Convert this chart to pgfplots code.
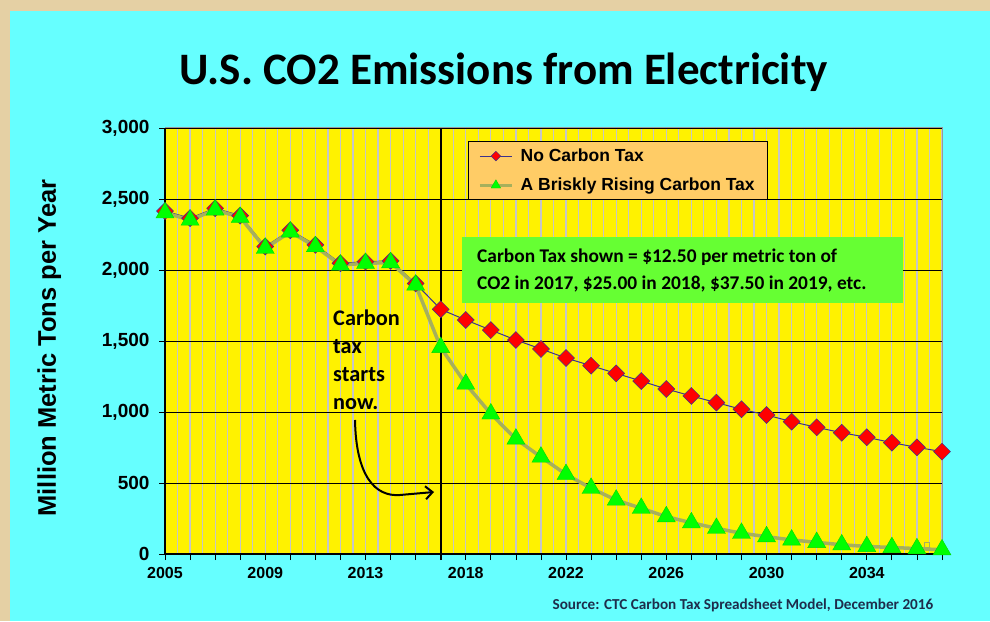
\documentclass[border=0pt]{standalone}
\usepackage{pgfplots}
\pgfplotsset{compat=1.18}
\usepackage{fontspec}
\setmainfont{Liberation Sans}
\newfontfamily\calibri{Carlito}
\usetikzlibrary{arrows.meta}
\definecolor{bgbeige}{RGB}{229,208,164}
\definecolor{panelcyan}{RGB}{102,255,255}
\definecolor{legorange}{RGB}{255,204,102}
\definecolor{boxgreen}{RGB}{102,255,51}
\definecolor{olive}{RGB}{166,176,92}
\definecolor{navyline}{RGB}{60,50,140}
\definecolor{srcnavy}{RGB}{30,45,75}
\pgfplotstableread{
x nc
0 2415
1 2365
2 2435
3 2383
4 2165
5 2280
6 2177
7 2047
8 2059
9 2064
10 1905
11 1723
12 1648
13 1577
14 1507
15 1444
16 1380
17 1326
18 1272
19 1218
20 1162
21 1113
22 1066
23 1019
24 979
25 932
26 892
27 854
28 822
29 784
30 751
31 721
}\nocarbon
\pgfplotstableread{
x ct
0 2403
1 2352
2 2423
3 2371
4 2153
5 2268
6 2165
7 2035
8 2047
9 2052
10 1894
11 1455
12 1197
13 987
14 810
15 683
16 561
17 463
18 380
19 322
20 263
21 220
22 181
23 146
24 122
25 99
26 82
27 65
28 53
29 46
30 38
31 30
}\carbontax
\begin{document}
\begin{tikzpicture}[x=1pt,y=1pt]
\fill[bgbeige] (0,0) rectangle (990,621);
\fill[panelcyan] (10,0) rectangle (990,610);
\begin{axis}[
  at={(165pt,67pt)}, anchor=south west,
  scale only axis, width=777pt, height=426pt,
  xmin=0, xmax=31, ymin=0, ymax=3000,
  clip=false,
  axis background/.style={fill=yellow},
  axis line style={draw=gray!80, line width=1pt},
  xtick={0,...,31},
  xticklabels={2005,,,,2009,,,,2013,,,,2018,,,,2022,,,,2026,,,,2030,,,,2034,,,},
  minor x tick num=1,
  ytick={0,500,...,3000},
  tick align=outside,
  major tick length=6pt,
  minor tick length=0pt,
  tick style={black, line width=0.8pt},
  xtick pos=bottom, ytick pos=left,
  xmajorgrids, xminorgrids, ymajorgrids,
  major x grid style={draw=gray!45, line width=1.2pt},
  minor x grid style={draw=gray!45, line width=1.2pt},
  major y grid style={draw=black, line width=0.9pt},
  scaled y ticks=false,
  /pgf/number format/.cd, 1000 sep={,}, assume math mode=true,
  /pgfplots/.cd,
  xticklabel style={font=\bfseries\fontsize{16}{18}\selectfont, yshift=-4pt},
  yticklabel style={font=\bfseries\fontsize{19}{21}\selectfont, xshift=-6pt},
  ylabel={Million Metric Tons per Year},
  ylabel style={at={(axis description cs:-0.149,0.4836)}, anchor=center, font=\bfseries\fontsize{25.5}{28}\selectfont},
  title={U.S. CO2 Emissions from Electricity},
  title style={at={(axis description cs:0.4357,1.117)}, anchor=center, font=\calibri\bfseries\fontsize{45}{48}\selectfont},
  legend style={at={(rel axis cs:0.3895,0.9695)}, anchor=north west,
    fill=legorange, draw=black, line width=1pt,
    font=\bfseries\fontsize{17.5}{20}\selectfont,
    inner xsep=10pt, inner ysep=5.5pt, row sep=11pt, column sep=4pt,
    nodes={inner xsep=3pt}},
  legend cell align=left,
]
\addplot[navyline, line width=1pt, mark=square*, mark size=6pt,
  mark options={rotate=45, fill=red, draw=navyline, line width=0.5pt},
  legend image code/.code={\draw[mark size=3.4pt, mark repeat=2, mark phase=2] plot coordinates {(0pt,0pt) (16pt,0pt) (32pt,0pt)};}]
  table[x=x,y=nc] {\nocarbon};
\addlegendentry{No Carbon Tax}
\addplot[olive, line width=3.5pt, mark=triangle*, mark size=10.4pt,
  mark options={fill=green, draw=green!85!black, line width=0.4pt},
  legend image code/.code={\draw[mark size=5.5pt, mark repeat=2, mark phase=2] plot coordinates {(0pt,0pt) (16pt,0pt) (32pt,0pt)};}]
  table[x=x,y=ct] {\carbontax};
\addlegendentry{A Briskly Rising Carbon Tax}
\addplot[forget plot, only marks, mark=square, mark size=2.6pt, mark options={draw=olive, line width=1.3pt}] coordinates {(30.4,62)};
\addplot[forget plot, black, line width=2pt] coordinates {(11,-42) (11,3000)};
\draw[black, line width=1.2pt] (rel axis cs:0,1) -- (rel axis cs:0,0) -- (rel axis cs:1,0);
\end{axis}
% green annotation box
\node[fill=boxgreen, anchor=north west, minimum width=441pt, minimum height=66pt, inner sep=0pt] at (462,384) {};
\node[anchor=west, font=\calibri\bfseries\fontsize{19.4}{27}\selectfont, align=left, inner sep=0pt] at (477,350)
  {Carbon Tax shown = \$12.50 per metric ton of\\CO2 in 2017, \$25.00 in 2018, \$37.50 in 2019, etc.};
% carbon tax starts now
\node[anchor=north west, font=\calibri\bfseries\fontsize{22.3}{28}\selectfont, align=left, inner sep=0pt] at (333,311)
  {Carbon\\tax\\starts\\now.};
\draw[line width=2pt, -{Straight Barb[length=7pt,width=13pt]}] (355,201) .. controls (356,145) and (375,124) .. (400,126) -- (434,129);
% source
\node[font=\calibri\bfseries\fontsize{15.2}{17}\selectfont, text=srcnavy] at (743,16) {Source: CTC Carbon Tax Spreadsheet Model, December 2016};
\end{tikzpicture}
\end{document}
